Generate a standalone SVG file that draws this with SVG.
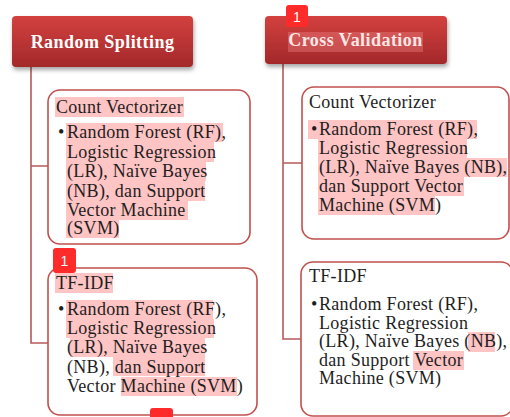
<svg xmlns="http://www.w3.org/2000/svg" width="510" height="417" viewBox="0 0 510 417">
<style>
.title{font-family:"Liberation Serif",serif;font-weight:bold;font-size:18px;fill:#fff;text-anchor:middle;letter-spacing:0.45px}
.t{font-family:"Liberation Serif",serif;font-size:18px;fill:#1e1e1e;letter-spacing:0.3px}
.box{fill:#fff;stroke:#c0504d;stroke-width:1.6}
.hl{fill:#ffc4c4}
.conn{fill:none;stroke:#b5595a;stroke-width:1.6}
.badge{fill:#ff2a2a}
.bt{font-family:"Liberation Sans",Arial,sans-serif;font-size:14px;fill:#fff;text-anchor:middle}
</style>
<defs>
<linearGradient id="red" x1="0" y1="0" x2="0" y2="1">
<stop offset="0" stop-color="#d3413f"/>
<stop offset="1" stop-color="#a3282a"/>
</linearGradient>
<filter id="sh" x="-10%" y="-20%" width="125%" height="160%">
<feDropShadow dx="1" dy="3" stdDeviation="2" flood-color="#000" flood-opacity="0.35"/>
</filter>
</defs>
<g id="connectors">
<path class="conn" d="M31,67 V343 H48 M31,166 H48"/>
<path class="conn" d="M283,64 V339 H301 M283,163 H302"/>
</g>
<g id="random-splitting">
<rect x="12" y="16" width="181" height="51" rx="4" fill="url(#red)" filter="url(#sh)"/>
<text class="title" x="102.5" y="48">Random Splitting</text>
</g>
<g id="cross-validation">
<rect x="265" y="16" width="182" height="48" rx="4" fill="url(#red)" filter="url(#sh)"/>
<rect x="288" y="32" width="135" height="20" fill="#ff9a9a" fill-opacity="0.3"/>
<text class="title" x="355.5" y="46" style="fill:#ffe6e6">Cross Validation</text>
</g>
<g id="left-count-vectorizer">
<rect class="box" x="48" y="90" width="202" height="154" rx="12"/>
<rect class="hl" x="55" y="97" width="129" height="20"/>
<rect class="hl" x="66" y="123" width="157" height="19"/>
<rect class="hl" x="66" y="142" width="148" height="20"/>
<rect class="hl" x="66" y="162" width="140" height="19"/>
<rect class="hl" x="66" y="181" width="139" height="20"/>
<rect class="hl" x="66" y="201" width="122" height="19"/>
<rect class="hl" x="66" y="220" width="53" height="18"/>
<text class="t" x="56" y="113">Count Vectorizer</text>
<text class="t" x="58" y="138">•</text>
<text class="t"><tspan x="67" y="138">Random Forest (RF),</tspan><tspan x="67" y="157.5">Logistic Regression</tspan><tspan x="67" y="177">(LR), Naïve Bayes</tspan><tspan x="67" y="196.5">(NB), dan Support</tspan><tspan x="67" y="215.5">Vector Machine</tspan><tspan x="67" y="234">(SVM)</tspan></text>
</g>
<g id="left-tfidf">
<rect class="box" x="48" y="268" width="209" height="147" rx="12"/>
<rect class="hl" x="55" y="273" width="58" height="20"/>
<rect class="hl" x="66" y="300" width="147" height="19"/>
<rect class="hl" x="66" y="319" width="148" height="19"/>
<rect class="hl" x="70" y="338" width="135" height="19"/>
<rect class="hl" x="113" y="357" width="92" height="19"/>
<rect class="hl" x="121" y="377" width="116" height="19"/>
<text class="t" x="56" y="289">TF-IDF</text>
<text class="t" x="58" y="315">•</text>
<text class="t"><tspan x="67" y="315">Random Forest (RF),</tspan><tspan x="67" y="334">Logistic Regression</tspan><tspan x="67" y="353">(LR), Naïve Bayes</tspan><tspan x="67" y="372.5">(NB), dan Support</tspan><tspan x="67" y="392">Vector Machine (SVM)</tspan></text>
</g>
<g id="right-count-vectorizer">
<rect class="box" x="302" y="87" width="207" height="152" rx="12"/>
<rect class="hl" x="308" y="120" width="169" height="19"/>
<rect class="hl" x="318" y="139" width="149" height="19"/>
<rect class="hl" x="318" y="158" width="189" height="19"/>
<rect class="hl" x="318" y="177" width="146" height="19"/>
<rect class="hl" x="318" y="196" width="117" height="19"/>
<text class="t" x="309" y="108">Count Vectorizer</text>
<text class="t" x="311" y="135">•</text>
<text class="t"><tspan x="319" y="135">Random Forest (RF),</tspan><tspan x="319" y="154">Logistic Regression</tspan><tspan x="319" y="173">(LR), Naïve Bayes (NB),</tspan><tspan x="319" y="192">dan Support Vector</tspan><tspan x="319" y="211">Machine (SVM)</tspan></text>
</g>
<g id="right-tfidf">
<rect class="box" x="301" y="262" width="212" height="154" rx="12"/>
<rect class="hl" x="468" y="332" width="27" height="20"/>
<rect class="hl" x="413" y="351" width="51" height="19"/>
<text class="t" x="309" y="282">TF-IDF</text>
<text class="t" x="311" y="310">•</text>
<text class="t"><tspan x="319" y="310">Random Forest (RF),</tspan><tspan x="319" y="328.5">Logistic Regression</tspan><tspan x="319" y="347">(LR), Naïve Bayes (NB),</tspan><tspan x="319" y="365.5">dan Support Vector</tspan><tspan x="319" y="384">Machine (SVM)</tspan></text>
</g>
<g id="badges">
<rect class="badge" x="286" y="5" width="22" height="22" rx="3"/>
<text class="bt" x="297" y="21.5">1</text>
<rect class="badge" x="53" y="248" width="23" height="25" rx="3"/>
<text class="bt" x="64.5" y="266">1</text>
<rect class="badge" x="150" y="408" width="23" height="22" rx="3"/>
</g>
</svg>
